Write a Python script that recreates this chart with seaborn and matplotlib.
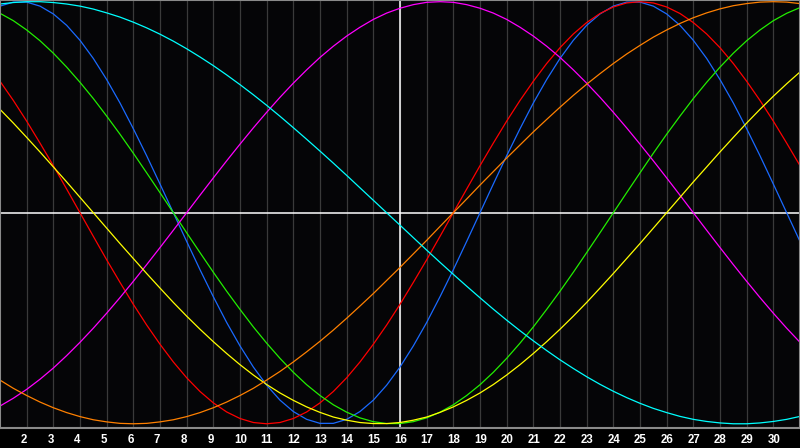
import numpy as np
import pandas as pd
import matplotlib.pyplot as plt
import matplotlib.transforms as mtransforms
import seaborn as sns

# Day of month, read every half day (1, 1.5, 2 ... 31)
days = np.arange(1, 31.01, 0.5)

# Cycle values (-1 .. 1) at each half day
physical = [0.979, 0.998, 0.998, 0.979, 0.942, 0.888, 0.817, 0.731, 0.631, 0.520, 0.398,
            0.270, 0.136, 0, -0.136, -0.270, -0.398, -0.520, -0.631, -0.731, -0.817,
            -0.888, -0.942, -0.979, -0.998, -0.998, -0.979, -0.942, -0.888, -0.817, -0.731,
            -0.631, -0.520, -0.398, -0.270, -0.136, 0, 0.136, 0.270, 0.398, 0.520,
            0.631, 0.731, 0.817, 0.888, 0.942, 0.979, 0.998, 0.998, 0.979, 0.942,
            0.888, 0.817, 0.731, 0.631, 0.520, 0.398, 0.270, 0.136, 0, -0.136]
emotional = [0.623, 0.532, 0.434, 0.330, 0.223, 0.112, 0, -0.112, -0.223, -0.330, -0.434,
             -0.532, -0.623, -0.707, -0.782, -0.847, -0.901, -0.944, -0.975, -0.994, -1.0,
             -0.994, -0.975, -0.944, -0.901, -0.847, -0.782, -0.707, -0.623, -0.532, -0.434,
             -0.330, -0.223, -0.112, 0, 0.112, 0.223, 0.330, 0.434, 0.532, 0.623,
             0.707, 0.782, 0.847, 0.901, 0.944, 0.975, 0.994, 1.0, 0.994, 0.975,
             0.944, 0.901, 0.847, 0.782, 0.707, 0.623, 0.532, 0.434, 0.330, 0.223]
intellectual = [0.945, 0.910, 0.866, 0.815, 0.756, 0.690, 0.618, 0.541, 0.458, 0.372, 0.282,
                0.189, 0.095, 0, -0.095, -0.189, -0.282, -0.372, -0.458, -0.541, -0.618,
                -0.690, -0.756, -0.815, -0.866, -0.910, -0.945, -0.972, -0.990, -0.999, -0.999,
                -0.990, -0.972, -0.945, -0.910, -0.866, -0.815, -0.756, -0.690, -0.618, -0.541,
                -0.458, -0.372, -0.282, -0.189, -0.095, 0, 0.095, 0.189, 0.282, 0.372,
                0.458, 0.541, 0.618, 0.690, 0.756, 0.815, 0.866, 0.910, 0.945, 0.972]
intuitive = [-0.916, -0.879, -0.837, -0.789, -0.736, -0.677, -0.614, -0.547, -0.476, -0.402, -0.325,
             -0.246, -0.165, -0.083, 0, 0.083, 0.165, 0.246, 0.325, 0.402, 0.476,
             0.547, 0.614, 0.677, 0.736, 0.789, 0.837, 0.879, 0.916, 0.946, 0.969,
             0.986, 0.997, 1.0, 0.997, 0.986, 0.969, 0.946, 0.916, 0.879, 0.837,
             0.789, 0.736, 0.677, 0.614, 0.547, 0.476, 0.402, 0.325, 0.246, 0.165,
             0.083, 0, -0.083, -0.165, -0.246, -0.325, -0.402, -0.476, -0.547, -0.614]
aesthetic = [0.490, 0.425, 0.357, 0.288, 0.217, 0.146, 0.073, 0, -0.073, -0.146, -0.217,
             -0.288, -0.357, -0.425, -0.490, -0.552, -0.611, -0.667, -0.720, -0.769, -0.814,
             -0.854, -0.889, -0.920, -0.946, -0.968, -0.983, -0.994, -0.999, -0.999, -0.994,
             -0.983, -0.968, -0.946, -0.920, -0.889, -0.854, -0.814, -0.769, -0.720, -0.667,
             -0.611, -0.552, -0.490, -0.425, -0.357, -0.288, -0.217, -0.146, -0.073, 0,
             0.073, 0.146, 0.217, 0.288, 0.357, 0.425, 0.490, 0.552, 0.611, 0.667]
awareness = [-0.793, -0.832, -0.866, -0.897, -0.924, -0.947, -0.966, -0.981, -0.991, -0.998, -1.0,
             -0.998, -0.991, -0.981, -0.966, -0.947, -0.924, -0.897, -0.866, -0.832, -0.793,
             -0.752, -0.707, -0.659, -0.609, -0.556, -0.500, -0.442, -0.383, -0.321, -0.259,
             -0.195, -0.131, -0.065, 0, 0.065, 0.131, 0.195, 0.259, 0.321, 0.383,
             0.442, 0.500, 0.556, 0.609, 0.659, 0.707, 0.752, 0.793, 0.832, 0.866,
             0.897, 0.924, 0.947, 0.966, 0.981, 0.991, 0.998, 1.0, 0.998, 0.991]
spiritual = [0.989, 0.996, 1.0, 1.0, 0.996, 0.989, 0.979, 0.965, 0.947, 0.927, 0.903,
             0.876, 0.846, 0.813, 0.777, 0.738, 0.697, 0.653, 0.607, 0.559, 0.509,
             0.457, 0.403, 0.348, 0.292, 0.235, 0.177, 0.118, 0.059, 0, -0.059,
             -0.118, -0.177, -0.235, -0.292, -0.348, -0.403, -0.457, -0.509, -0.559, -0.607,
             -0.653, -0.697, -0.738, -0.777, -0.813, -0.846, -0.876, -0.903, -0.927, -0.947,
             -0.965, -0.979, -0.989, -0.996, -1.0, -1.0, -0.996, -0.989, -0.979, -0.965]

today = 16
tick_days = list(range(2, 31))

cycles = {
    'Physical': physical,
    'Emotional': emotional,
    'Intellectual': intellectual,
    'Intuitive': intuitive,
    'Aesthetic': aesthetic,
    'Awareness': awareness,
    'Spiritual': spiritual,
}
palette = {
    'Physical': '#1a6aff',
    'Emotional': '#ff0000',
    'Intellectual': '#22ee00',
    'Intuitive': '#ff00ff',
    'Aesthetic': '#ffff00',
    'Awareness': '#ff8000',
    'Spiritual': '#00ffff',
}

rows = []
for name, vals in cycles.items():
    assert len(vals) == len(days), name
    for d, v in zip(days, vals):
        rows.append({'Day': d, 'Cycle': name, 'Value': v})
df = pd.DataFrame(rows)

sns.set_style('dark')
plt.rcParams['font.family'] = ['Liberation Sans', 'DejaVu Sans']

fig = plt.figure(figsize=(8, 4.48), dpi=100, facecolor='#000000')
ax = fig.add_axes([0, 20 / 448, 1, 428 / 448])
ax.set_facecolor('#050507')

# vertical day grid
for d in tick_days:
    ax.axvline(d, color='#3a3a3a', lw=0.9, zorder=0)

sns.lineplot(data=df, x='Day', y='Value', hue='Cycle', palette=palette,
             lw=0.9, legend=False, ax=ax, zorder=2)

ax.axvline(today, color='white', lw=1.1, zorder=1)
ax.axhline(0, color='white', lw=1.1, zorder=1)

ax.set_xlim(1, 31)
ax.set_ylim(-1.02, 1.008)
ax.set_yticks([])
ax.set_xticks(tick_days)
ax.set_xticklabels([str(d) for d in tick_days], color='white', fontsize=8.3, fontweight='bold')
ax.tick_params(axis='x', length=0, pad=4)
offset = mtransforms.ScaledTranslation(-6 / 100, 0, fig.dpi_scale_trans)
for lab in ax.get_xticklabels():
    lab.set_horizontalalignment('left')
    lab.set_transform(lab.get_transform() + offset)
ax.grid(False)
ax.set_xlabel('')
ax.set_ylabel('')
for s in ax.spines.values():
    s.set_visible(True)
    s.set_color('#8a8a8a')
    s.set_linewidth(1.5)

fig.savefig('out.png', dpi=100, facecolor=fig.get_facecolor())
